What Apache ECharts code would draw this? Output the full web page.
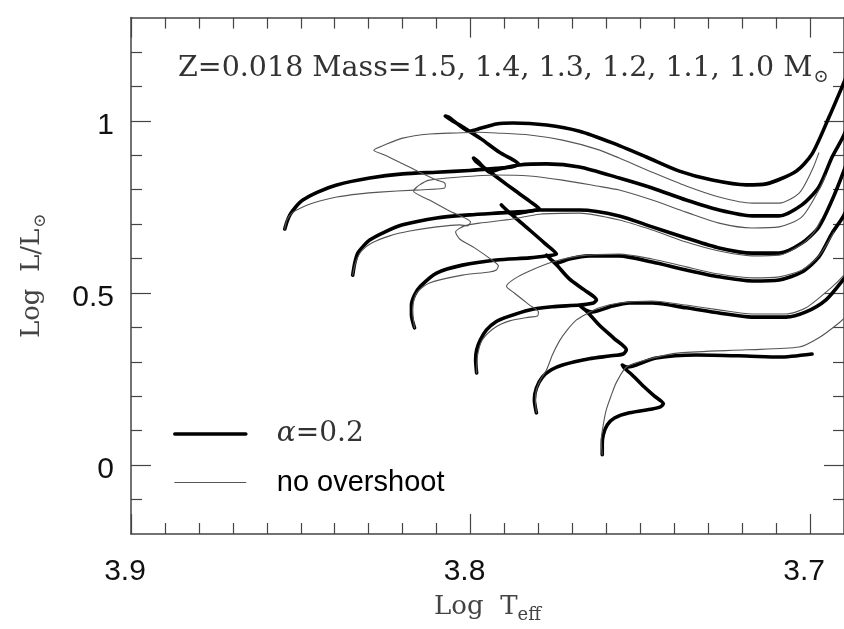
<!DOCTYPE html>
<html><head><meta charset="utf-8">
<script src="https://cdn.jsdelivr.net/npm/echarts@6/dist/echarts.min.js"></script>
<style>html,body{margin:0;padding:0;background:#fff}#c{width:844px;height:629px}</style>
</head><body><div id="c"></div>
<script>
// ---- axis ticks ----
const xMajorTicks = [3.7, 3.8, 3.9];
const xMinorTicks = [3.71,3.72,3.73,3.74,3.75,3.76,3.77,3.78,3.79,3.81,3.82,3.83,3.84,3.85,3.86,3.87,3.88,3.89];
const yMajorTicks = [0, 0.5, 1];
const yMinorTicks = [-0.1,0.1,0.2,0.3,0.4,0.6,0.7,0.8,0.9,1.1,1.2];

// ---- tracks: [log Teff, log L/Lsun] ----
const a15 = [[3.8547,0.686],[3.8541,0.706],[3.8532,0.727],[3.8515,0.750],[3.8494,0.770],[3.8450,0.793],[3.8394,0.814],[3.8297,0.834],[3.8200,0.846],[3.8100,0.851],[3.8003,0.856],[3.7924,0.862],[3.7879,0.866],[3.7859,0.875],[3.7868,0.883],[3.7915,0.909],[3.7968,0.947],[3.8018,0.979],[3.8056,1.002],[3.8074,1.014],[3.8065,1.011],[3.8038,0.991],[3.8003,0.970],[3.7968,0.979],[3.7924,0.991],[3.7876,0.994],[3.7776,0.988],[3.7679,0.970],[3.7582,0.936],[3.7482,0.895],[3.7385,0.854],[3.7288,0.828],[3.7188,0.814],[3.7129,0.817],[3.7041,0.854],[3.6994,0.904],[3.6944,1.011],[3.6906,1.098],[3.6879,1.162]];
const n15 = [[3.8547,0.686],[3.8541,0.712],[3.8526,0.732],[3.8494,0.750],[3.8444,0.767],[3.8394,0.779],[3.8326,0.788],[3.8268,0.793],[3.8165,0.799],[3.8100,0.802],[3.8076,0.805],[3.8074,0.814],[3.8079,0.822],[3.8100,0.828],[3.8150,0.851],[3.8209,0.880],[3.8253,0.901],[3.8285,0.915],[3.8253,0.930],[3.8200,0.950],[3.8121,0.962],[3.8041,0.965],[3.7974,0.967],[3.7924,0.965],[3.7826,0.959],[3.7729,0.944],[3.7629,0.918],[3.7562,0.892],[3.7465,0.851],[3.7365,0.811],[3.7268,0.779],[3.7171,0.761],[3.7091,0.761],[3.7032,0.790],[3.6994,0.857],[3.6974,0.907]];
const a14 = [[3.8347,0.552],[3.8341,0.587],[3.8332,0.616],[3.8315,0.637],[3.8297,0.654],[3.8253,0.677],[3.8200,0.698],[3.8100,0.718],[3.8003,0.727],[3.7924,0.732],[3.7871,0.735],[3.7826,0.738],[3.7797,0.744],[3.7826,0.767],[3.7871,0.799],[3.7915,0.831],[3.7959,0.863],[3.7985,0.883],[3.7991,0.892],[3.7979,0.883],[3.7959,0.863],[3.7944,0.851],[3.7915,0.860],[3.7856,0.872],[3.7776,0.875],[3.7679,0.866],[3.7562,0.834],[3.7465,0.805],[3.7365,0.770],[3.7268,0.741],[3.7171,0.724],[3.7091,0.724],[3.7024,0.756],[3.6974,0.808],[3.6935,0.895],[3.6903,0.953],[3.6879,1.008]];
const n14 = [[3.8347,0.552],[3.8338,0.590],[3.8321,0.622],[3.8291,0.645],[3.8238,0.666],[3.8179,0.680],[3.8100,0.692],[3.8032,0.698],[3.8009,0.695],[3.8000,0.706],[3.8062,0.738],[3.8121,0.770],[3.8168,0.796],[3.8150,0.814],[3.8121,0.828],[3.8032,0.837],[3.7924,0.843],[3.7826,0.840],[3.7729,0.828],[3.7629,0.811],[3.7562,0.799],[3.7465,0.770],[3.7365,0.735],[3.7268,0.703],[3.7171,0.689],[3.7091,0.692],[3.7024,0.721],[3.6974,0.799],[3.6953,0.843]];
const a13 = [[3.8165,0.399],[3.8174,0.436],[3.8174,0.465],[3.8165,0.494],[3.8147,0.520],[3.8100,0.558],[3.8024,0.581],[3.7924,0.596],[3.7826,0.602],[3.7774,0.608],[3.7747,0.613],[3.7782,0.645],[3.7826,0.683],[3.7871,0.721],[3.7900,0.747],[3.7909,0.756],[3.7897,0.744],[3.7879,0.729],[3.7841,0.735],[3.7797,0.741],[3.7738,0.741],[3.7679,0.741],[3.7562,0.724],[3.7465,0.692],[3.7365,0.660],[3.7268,0.631],[3.7171,0.616],[3.7091,0.616],[3.7024,0.645],[3.6974,0.692],[3.6935,0.770],[3.6903,0.848],[3.6879,0.915]];
const n13 = [[3.8165,0.399],[3.8171,0.451],[3.8159,0.500],[3.8121,0.529],[3.8024,0.552],[3.7944,0.561],[3.7924,0.567],[3.7918,0.579],[3.7929,0.590],[3.7988,0.631],[3.8032,0.657],[3.8044,0.677],[3.8018,0.695],[3.7974,0.703],[3.7876,0.715],[3.7797,0.729],[3.7679,0.732],[3.7562,0.712],[3.7465,0.683],[3.7365,0.648],[3.7268,0.622],[3.7171,0.608],[3.7091,0.610],[3.7024,0.642],[3.6988,0.677],[3.6968,0.712]];
const a12 = [[3.7982,0.268],[3.7985,0.306],[3.7982,0.335],[3.7971,0.364],[3.7953,0.393],[3.7926,0.416],[3.7894,0.430],[3.7826,0.451],[3.7759,0.460],[3.7679,0.465],[3.7638,0.471],[3.7629,0.480],[3.7665,0.509],[3.7709,0.541],[3.7744,0.579],[3.7771,0.605],[3.7776,0.610],[3.7762,0.596],[3.7747,0.587],[3.7709,0.599],[3.7650,0.608],[3.7562,0.608],[3.7465,0.590],[3.7365,0.567],[3.7268,0.547],[3.7171,0.535],[3.7091,0.538],[3.7024,0.561],[3.6974,0.605],[3.6935,0.674],[3.6903,0.721],[3.6879,0.770]];
const n12 = [[3.7982,0.268],[3.7979,0.320],[3.7965,0.364],[3.7929,0.399],[3.7885,0.419],[3.7826,0.430],[3.7803,0.433],[3.7800,0.445],[3.7826,0.465],[3.7871,0.500],[3.7894,0.520],[3.7871,0.541],[3.7826,0.564],[3.7759,0.590],[3.7679,0.608],[3.7562,0.613],[3.7465,0.599],[3.7365,0.576],[3.7268,0.555],[3.7171,0.544],[3.7091,0.547],[3.7024,0.567],[3.6974,0.608],[3.6929,0.677]];
const a11 = [[3.7806,0.152],[3.7812,0.190],[3.7806,0.224],[3.7788,0.256],[3.7762,0.277],[3.7729,0.291],[3.7650,0.309],[3.7591,0.317],[3.7550,0.323],[3.7541,0.335],[3.7576,0.367],[3.7621,0.407],[3.7656,0.445],[3.7676,0.462],[3.7662,0.451],[3.7641,0.445],[3.7582,0.462],[3.7532,0.471],[3.7465,0.471],[3.7365,0.457],[3.7268,0.442],[3.7171,0.430],[3.7071,0.430],[3.7012,0.445],[3.6953,0.480],[3.6903,0.538],[3.6879,0.573]];
const n11 = [[3.7806,0.152],[3.7809,0.190],[3.7806,0.219],[3.7794,0.248],[3.7776,0.277],[3.7759,0.320],[3.7738,0.361],[3.7715,0.393],[3.7688,0.422],[3.7659,0.439],[3.7621,0.457],[3.7562,0.471],[3.7465,0.477],[3.7365,0.465],[3.7268,0.451],[3.7171,0.439],[3.7071,0.439],[3.7012,0.457],[3.6935,0.518],[3.6903,0.549],[3.6879,0.581]];
const a10 = [[3.7612,0.030],[3.7612,0.059],[3.7609,0.088],[3.7597,0.117],[3.7576,0.137],[3.7532,0.152],[3.7465,0.163],[3.7441,0.169],[3.7432,0.178],[3.7459,0.201],[3.7488,0.227],[3.7524,0.262],[3.7547,0.282],[3.7553,0.291],[3.7538,0.285],[3.7521,0.288],[3.7453,0.311],[3.7335,0.320],[3.7188,0.317],[3.7091,0.314],[3.6994,0.323]];
const n10 = [[3.7612,0.030],[3.7615,0.073],[3.7609,0.117],[3.7600,0.161],[3.7585,0.204],[3.7571,0.239],[3.7541,0.285],[3.7482,0.306],[3.7385,0.326],[3.7188,0.335],[3.7032,0.343],[3.6974,0.370],[3.6915,0.413],[3.6879,0.445]];

const thickTracks = [a15, a14, a13, a12, a11, a10];
const thinTracks = [n15, n14, n13, n12, n11, n10];
const NAME_A = 'α=0.2', NAME_N = 'no overshoot';

const AX = '#444';
function lineSeries(name, data, color, width, z) {
  return {type:'line', name, data, symbol:'none', showSymbol:false, smooth:0.25, clip:true,
    lineStyle:{color, width, cap:'round', join:'round'}, itemStyle:{color}, z, animation:false};
}
const series = [];
thickTracks.forEach(d => series.push(lineSeries(NAME_A, d, '#000', 3.6, 2)));
thinTracks.forEach(d => series.push(lineSeries(NAME_N, d, '#555', 1.1, 3)));

const noLine = {show:false, onZero:false};
const xBase = {type:'value', min:3.69, max:3.9, inverse:true, splitLine:{show:false}, axisLabel:{show:false}};
const yBase = {type:'value', min:-0.2, max:1.3, splitLine:{show:false}, axisLabel:{show:false}};
const tickStyle = {color:AX, width:1.2};
const frame = {show:true, onZero:false, lineStyle:{color:AX, width:1.5}};
const serif = 'DejaVu Serif';

const option = {
  backgroundColor:'#fff',
  animation:false,
  grid:{left:131, top:17.6, width:714, height:516.7, containLabel:false},
  title:{
    text:'{a|Z=0.018 Mass=1.5, 1.4, 1.3, 1.2, 1.1, 1.0 M}{s|⊙}',
    left:173, top:46,
    textStyle:{fontWeight:'normal', rich:{
      a:{fontFamily:serif, fontWeight:'normal', fontSize:28.5, color:'#333'},
      s:{fontFamily:serif, fontWeight:'normal', fontSize:18, color:'#333', padding:[17,0,0,1]}
    }}
  },
  legend:{
    data:[NAME_A, NAME_N], orient:'vertical', left:168, top:415,
    itemWidth:71, itemHeight:14, itemGap:20, selectedMode:false,
    lineStyle:{width:'inherit'}, itemStyle:{opacity:0},
    formatter: n => n === NAME_A ? '{g|α}{r|=0.2}' : '{n|no overshoot}',
    textStyle:{padding:[0,0,0,26], rich:{
      g:{fontFamily:serif, fontStyle:'italic', fontSize:28, color:'#333'},
      r:{fontFamily:serif, fontSize:28, color:'#333'},
      n:{fontFamily:'Liberation Sans', fontSize:29, color:'#000'}
    }}
  },
  xAxis:[
    Object.assign({}, xBase, {position:'bottom', axisLine:frame,
      axisTick:{show:true, inside:true, length:20, customValues:xMajorTicks, lineStyle:tickStyle},
      axisLabel:{show:true, customValues:xMajorTicks, formatter:v => v.toFixed(1), fontFamily:'Liberation Sans', fontSize:30, color:'#111', margin:23, padding:[0,12,0,0]},
      name:'{a|Log  T}{s|eff}', nameLocation:'middle', nameGap:56,
      nameTextStyle:{rich:{
        a:{fontFamily:serif, fontSize:26, color:'#444'},
        s:{fontFamily:serif, fontSize:18, color:'#444', padding:[16,0,0,0]}
      }}
    }),
    Object.assign({}, xBase, {position:'top', axisLine:frame,
      axisTick:{show:true, inside:true, length:20, customValues:xMajorTicks, lineStyle:tickStyle}}),
    Object.assign({}, xBase, {position:'bottom', axisLine:noLine,
      axisTick:{show:true, inside:true, length:11, customValues:xMinorTicks, lineStyle:tickStyle}}),
    Object.assign({}, xBase, {position:'top', axisLine:noLine,
      axisTick:{show:true, inside:true, length:11, customValues:xMinorTicks, lineStyle:tickStyle}})
  ],
  yAxis:[
    Object.assign({}, yBase, {position:'left', axisLine:frame,
      axisTick:{show:true, inside:true, length:20, customValues:yMajorTicks, lineStyle:tickStyle},
      axisLabel:{show:true, customValues:yMajorTicks, formatter:v => '{v|' + v + '}', margin:17,
        rich:{v:{fontFamily:'Liberation Sans', fontSize:30, color:'#111', padding:[9,0,0,0]}}},
      name:'{a|Log  L/L}{s|⊙}', nameLocation:'middle', nameRotate:90, nameGap:82,
      nameTextStyle:{rich:{
        a:{fontFamily:serif, fontSize:26, color:'#444'},
        s:{fontFamily:serif, fontSize:17, color:'#444', padding:[16,0,0,1]}
      }}
    }),
    Object.assign({}, yBase, {position:'right', axisLine:frame,
      axisTick:{show:true, inside:true, length:20, customValues:yMajorTicks, lineStyle:tickStyle}}),
    Object.assign({}, yBase, {position:'left', axisLine:noLine,
      axisTick:{show:true, inside:true, length:11, customValues:yMinorTicks, lineStyle:tickStyle}}),
    Object.assign({}, yBase, {position:'right', axisLine:noLine,
      axisTick:{show:true, inside:true, length:11, customValues:yMinorTicks, lineStyle:tickStyle}})
  ],
  series: series
};
const chart = echarts.init(document.getElementById('c'), null, {renderer:'canvas'});
chart.setOption(option);
</script></body></html>
